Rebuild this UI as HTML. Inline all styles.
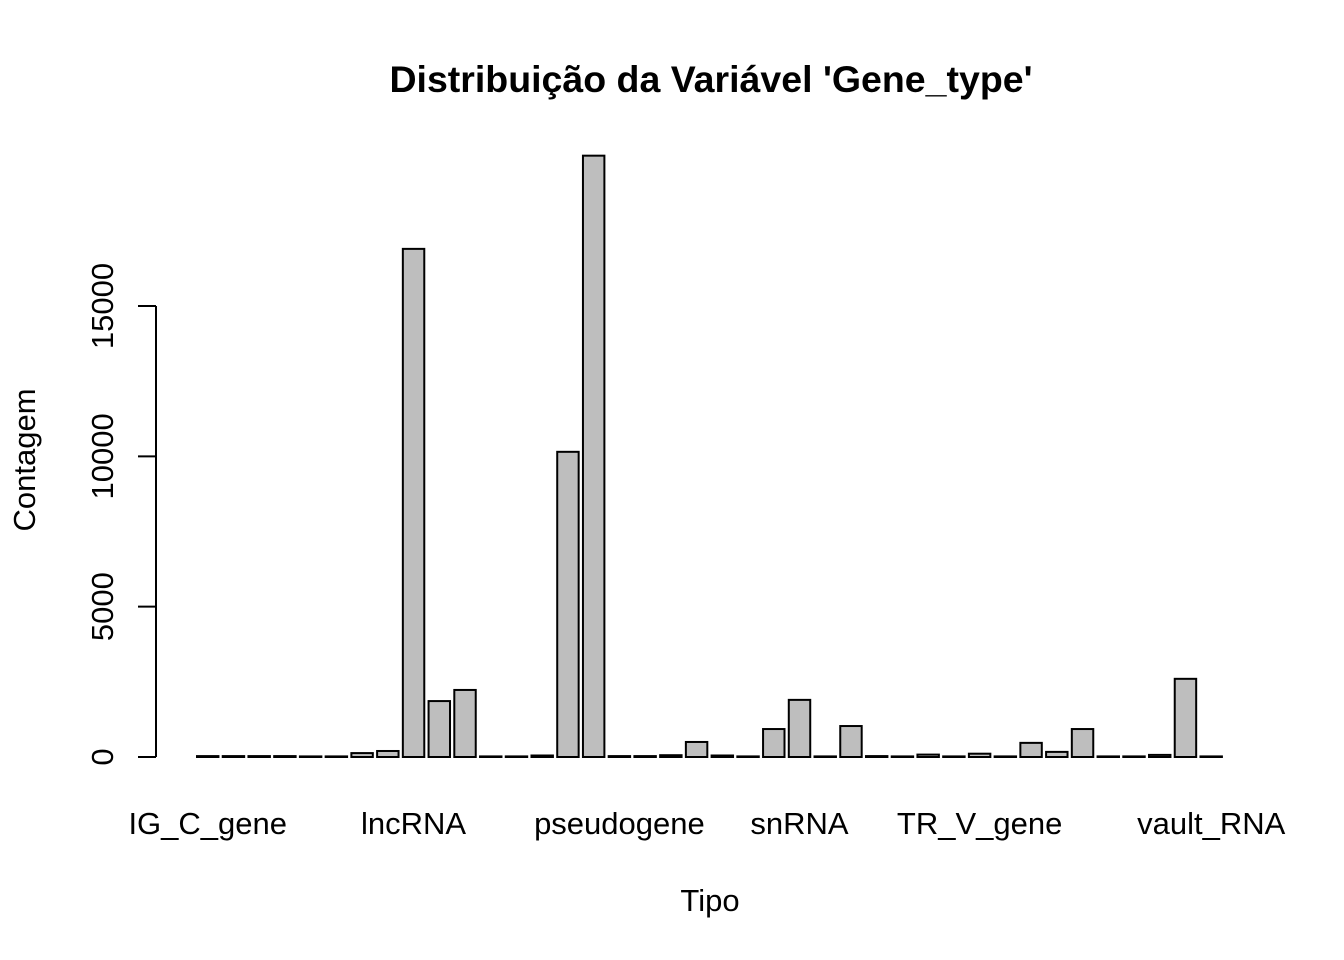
<!DOCTYPE html>
<html><head><meta charset="utf-8"><style>html,body{margin:0;padding:0;background:#fff}svg{display:block}</style></head>
<body>
<svg id="chart" width="1344" height="960" xmlns="http://www.w3.org/2000/svg" font-family="Liberation Sans, Arial, sans-serif">
<rect width="1344" height="960" fill="#fff"/>
<text x="711" y="92" text-anchor="middle" font-size="37.5" font-weight="bold">Distribuição da Variável 'Gene_type'</text>
<text x="710" y="911" text-anchor="middle" font-size="31">Tipo</text>
<text transform="translate(35,460) rotate(-90)" text-anchor="middle" font-size="31">Contagem</text>
<g id="bars"></g><g id="yaxis"></g><g id="xlabels"></g>
</svg>
<script>
const values = [30,30,30,30,0,0,130,200,16900,1860,2230,0,20,50,10150,20000,30,30,60,500,50,0,930,1900,0,1030,30,0,80,0,110,20,470,170,930,0,0,70,2600,0];
const labelIndex = [0,8,16,23,30,39];
const labelText = ["IG_C_gene","lncRNA","pseudogene","snRNA","TR_V_gene","vault_RNA"];
const yTicks = [0,5000,10000,15000];
const NS="http://www.w3.org/2000/svg";
const y0=757, pxPer=451/15000, x0=197, step=25.73, bw=21.44;
const ys=v=>y0-v*pxPer, xs=i=>x0+i*step;
const bars=document.getElementById('bars');
values.forEach((v,i)=>{
  const r=document.createElementNS(NS,'rect');
  const h=Math.max(0.6,y0-ys(v));
  r.setAttribute('x',xs(i));r.setAttribute('y',y0-h);
  r.setAttribute('width',bw);r.setAttribute('height',h);
  r.setAttribute('fill','#bebebe');r.setAttribute('stroke','#000');r.setAttribute('stroke-width','2');
  
  
  bars.appendChild(r);
});
const ya=document.getElementById('yaxis');
const ln=document.createElementNS(NS,'line');
ln.setAttribute('x1',156);ln.setAttribute('x2',156);ln.setAttribute('y1',ys(yTicks[yTicks.length-1]));ln.setAttribute('y2',ys(0));
ln.setAttribute('stroke','#000');ln.setAttribute('stroke-width','2');


ya.appendChild(ln);
yTicks.forEach(t=>{
  const tk=document.createElementNS(NS,'line');
  tk.setAttribute('x1',138);tk.setAttribute('x2',156);tk.setAttribute('y1',ys(t));tk.setAttribute('y2',ys(t));
  tk.setAttribute('stroke','#000');tk.setAttribute('stroke-width','2');
  
  
  ya.appendChild(tk);
  const tx=document.createElementNS(NS,'text');
  tx.setAttribute('transform','translate(113,'+ys(t)+') rotate(-90)');
  tx.setAttribute('text-anchor','middle');tx.setAttribute('font-size','31');
  tx.textContent=t;
  
  
  ya.appendChild(tx);
});
const xl=document.getElementById('xlabels');
labelIndex.forEach((idx,k)=>{
  const tx=document.createElementNS(NS,'text');
  tx.setAttribute('x',xs(idx)+bw/2);tx.setAttribute('y',834);
  tx.setAttribute('text-anchor','middle');tx.setAttribute('font-size','31');
  tx.textContent=labelText[k];
  
  
  xl.appendChild(tx);
});
</script>
</body></html>
